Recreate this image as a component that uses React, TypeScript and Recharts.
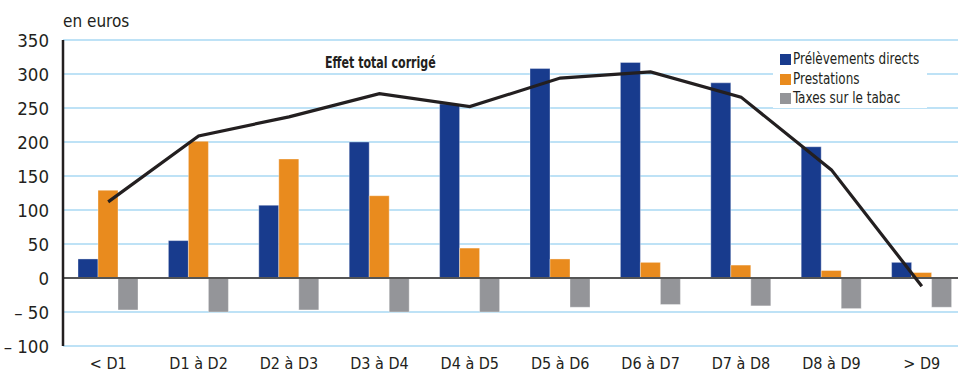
import {
  ComposedChart,
  Bar,
  Line,
  XAxis,
  YAxis,
  CartesianGrid,
  ReferenceLine
} from 'recharts';

const deciles = ['< D1', 'D1 à D2', 'D2 à D3', 'D3 à D4', 'D4 à D5', 'D5 à D6', 'D6 à D7', 'D7 à D8', 'D8 à D9', '> D9'];
const prelevements = [28, 55, 107, 200, 256, 308, 317, 287, 193, 23];
const prestations = [129, 201, 175, 121, 44, 28, 23, 19, 11, 8];
const taxesTabac = [-47, -50, -47, -50, -50, -43, -39, -41, -45, -43];
const effetTotal = [112, 209, 237, 271, 252, 294, 303, 266, 159, -12];
const yTicks = [-100, -50, 0, 50, 100, 150, 200, 250, 300, 350];

const FONT = '"Liberation Sans Narrow", "DejaVu Sans Condensed", Arial, sans-serif';
const TEXT = '#231f20';

const series = [
  { key: 'prelevements', name: 'Prélèvements directs', color: '#183b8d' },
  { key: 'prestations', name: 'Prestations', color: '#e98b1e' },
  { key: 'taxes', name: 'Taxes sur le tabac', color: '#949599' }
];

const data = deciles.map((d, i) => ({
  decile: d,
  prelevements: prelevements[i],
  prestations: prestations[i],
  taxes: taxesTabac[i],
  total: effetTotal[i]
}));

const fmtY = (v: number) => (v < 0 ? `\u2013 ${-v}` : `${v}`);

// legend sits over the gridlines on a white box, outside the chart layout
const LegendBox = () => (
  <div
    style={{
      position: 'absolute',
      left: 773,
      top: 47,
      width: 154,
      height: 61,
      boxSizing: 'border-box',
      background: '#fff',
      padding: '3px 0 0 7px',
      fontFamily: FONT,
      fontSize: 15.5,
      color: TEXT,
      lineHeight: '19.5px',
      whiteSpace: 'nowrap'
    }}
  >
    {series.map((s) => (
      <div key={s.key} style={{ display: 'flex', alignItems: 'center' }}>
        <span style={{ width: 11, height: 11, background: s.color, marginRight: 2, flex: 'none' }} />
        <span style={{ display: 'inline-block', transform: 'scaleX(0.86)', transformOrigin: 'left' }}>{s.name}</span>
      </div>
    ))}
  </div>
);

export default function App() {
  return (
    <div
      style={{
        position: 'fixed',
        left: 0,
        top: 0,
        width: 958,
        height: 372,
        overflow: 'hidden',
        background: '#fff'
      }}
    >
      <div style={{ position: 'absolute', left: 63, top: 11, fontFamily: FONT, fontSize: 17, color: TEXT }}>
        en euros
      </div>
      <ComposedChart
        width={970}
        height={372}
        data={data}
        margin={{ top: 40, right: 3, bottom: 0, left: 0 }}
        barGap={0}
      >
        <CartesianGrid vertical={false} stroke="#a9d9f3" strokeWidth={1.5} />
        <XAxis
          dataKey="decile"
          height={26}
          axisLine={false}
          tickLine={false}
          tickMargin={6}
          tick={{ fontFamily: FONT, fontSize: 16, fill: TEXT }}
          interval={0}
        />
        <YAxis
          width={63}
          domain={[-100, 350]}
          ticks={yTicks}
          tickFormatter={fmtY}
          tickLine={false}
          tickSize={0}
          tickMargin={14}
          axisLine={{ stroke: TEXT, strokeWidth: 2.5 }}
          tick={{ fontFamily: FONT, fontSize: 18.5, fill: TEXT }}
          interval={0}
        />
        <ReferenceLine y={0} stroke="#555" strokeWidth={2} />
        {series.map((s) => (
          <Bar
            key={s.key}
            dataKey={s.key}
            name={s.name}
            fill={s.color}
            stroke="#ffffff"
            strokeOpacity={0.35}
            barSize={20}
            isAnimationActive={false}
          />
        ))}
        <Line
          type="linear"
          dataKey="total"
          name="Effet total corrigé"
          stroke={TEXT}
          strokeWidth={3.2}
          dot={false}
          activeDot={false}
          isAnimationActive={false}
        />
      </ComposedChart>
      <LegendBox />
      <div
        style={{
          position: 'absolute',
          left: 325,
          top: 54,
          fontFamily: FONT,
          fontSize: 15,
          fontWeight: 'bold',
          color: TEXT,
          whiteSpace: 'nowrap',
          transform: 'scaleX(0.82)',
          transformOrigin: 'left'
        }}
      >
        Effet total corrigé
      </div>
    </div>
  );
}
